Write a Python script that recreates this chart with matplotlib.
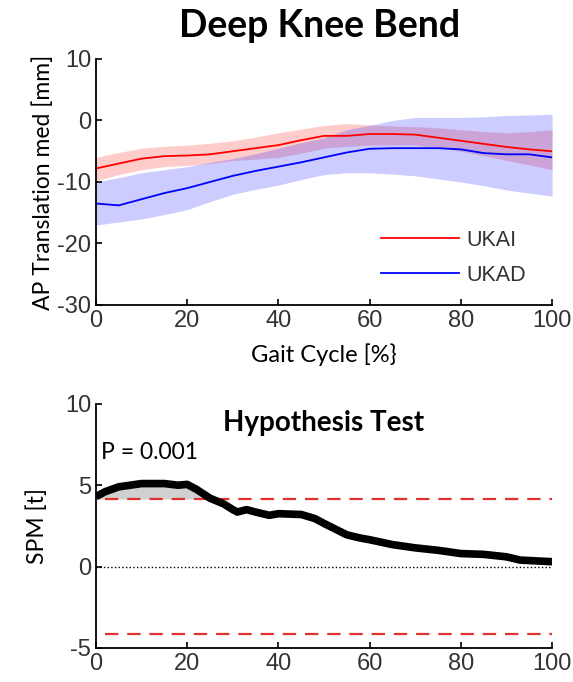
import numpy as np
import matplotlib.pyplot as plt

plt.rcParams['axes.unicode_minus'] = False

# --- data ---
gait = [0, 5, 10, 15, 20, 25, 30, 35, 40, 45, 50, 55, 60, 65, 70, 75, 80, 85, 90, 95, 100]

ukai_mean = [-7.8, -7.0, -6.2, -5.8, -5.7, -5.5, -5.0, -4.5, -4.0, -3.2, -2.5, -2.5, -2.2, -2.2, -2.3, -2.8, -3.3, -3.8, -4.3, -4.7, -5.0]
ukai_upper = [-6.0, -5.2, -4.5, -4.2, -4.0, -3.7, -3.3, -2.7, -2.0, -1.4, -0.8, -0.5, -0.7, -0.9, -1.0, -1.2, -1.5, -1.8, -2.0, -1.8, -1.5]
ukai_lower = [-9.8, -8.8, -8.0, -7.5, -7.3, -7.0, -6.5, -6.3, -6.0, -5.3, -4.5, -4.2, -4.0, -4.0, -4.0, -4.4, -5.0, -5.7, -6.5, -7.2, -8.0]

ukad_mean = [-13.5, -13.8, -12.8, -11.8, -11.0, -10.0, -9.0, -8.2, -7.5, -6.8, -6.0, -5.2, -4.6, -4.5, -4.5, -4.5, -4.7, -5.3, -5.5, -5.5, -6.0]
ukad_upper = [-10.0, -9.3, -8.5, -8.0, -7.5, -6.8, -6.2, -5.4, -4.5, -3.6, -2.8, -1.5, -0.8, 0.0, 0.5, 0.5, 0.5, 0.6, 0.8, 0.9, 1.0]
ukad_lower = [-17.0, -16.5, -16.0, -15.3, -14.5, -13.2, -12.0, -11.2, -10.5, -9.6, -8.8, -8.5, -8.5, -8.7, -9.0, -9.5, -10.0, -10.6, -11.3, -11.8, -12.3]

spm_x = [0, 2, 5, 10, 15, 18, 20, 22, 25, 28, 30, 31, 33, 35, 38, 40, 45, 48, 50, 55, 58, 60, 65, 70, 75, 80, 85, 90, 93, 100]
spm_t = [4.3, 4.6, 4.9, 5.1, 5.1, 5.0, 5.05, 4.75, 4.2, 3.85, 3.5, 3.35, 3.5, 3.35, 3.15, 3.25, 3.2, 2.95, 2.65, 1.95, 1.75, 1.65, 1.35, 1.15, 1.0, 0.8, 0.75, 0.6, 0.4, 0.3]
t_crit = 4.15

x_ticks = [0, 20, 40, 60, 80, 100]

tick_font = ['Liberation Sans Narrow', 'Liberation Sans', 'DejaVu Sans']
text_font = ['Lato', 'DejaVu Sans']

fig = plt.figure(figsize=(5.73, 6.82), dpi=100)

def style_axes(ax):
    ax.spines['top'].set_visible(False)
    ax.spines['right'].set_visible(False)
    ax.spines['left'].set_linewidth(1.3)
    ax.spines['bottom'].set_linewidth(1.3)
    ax.tick_params(direction='in', length=4, width=1.2, labelsize=17, colors='black', labelcolor='#333333')
    for lab in ax.get_xticklabels() + ax.get_yticklabels():
        lab.set_family(tick_font)

# ---- top panel ----
ax1 = fig.add_axes([0.1675, 0.5528, 0.796, 0.3607])
ax1.fill_between(gait, ukai_lower, ukai_upper, color='#ff0000', alpha=0.2, linewidth=0)
ax1.fill_between(gait, ukad_lower, ukad_upper, color='#0000ff', alpha=0.2, linewidth=0)
ax1.plot(gait, ukai_mean, color='#ff0000', lw=1.3, label='UKAI')
ax1.plot(gait, ukad_mean, color='#0000ff', lw=1.3, label='UKAD')
ax1.set_xlim(0, 100)
ax1.set_ylim(-30, 10)
ax1.set_xticks(x_ticks)
ax1.set_yticks([-30, -20, -10, 0, 10])
style_axes(ax1)
ax1.set_xlabel('Gait Cycle [%}', fontsize=17, family=text_font, labelpad=8)
ax1.set_ylabel('AP Translation med [mm]', fontsize=16.5, family=text_font, labelpad=2)
leg = ax1.legend(loc='lower right', frameon=False, handlelength=3.6, handletextpad=0.35,
                 labelspacing=0.65, bbox_to_anchor=(0.985, 0.0),
                 prop={'family': tick_font, 'size': 15.5})
for t in leg.get_texts():
    t.set_color('#333333')

fig.text(320 / 573, 1 - 26 / 682, 'Deep Knee Bend', ha='center', va='center',
         fontsize=27, fontweight='bold', family=text_font)

# ---- bottom panel ----
ax2 = fig.add_axes([0.1675, 0.0499, 0.796, 0.358])
spm_arr = np.array(spm_t)
ax2.fill_between(spm_x, t_crit, spm_arr, where=spm_arr > t_crit, interpolate=True,
                 color='#d0d0d0', linewidth=0)
ax2.plot([0, 100], [0, 0], color='black', ls=':', lw=1)
ax2.plot([2, 100], [t_crit, t_crit], color='#e03030', ls=(0, (6, 4)), lw=1.6)
ax2.plot([2, 100], [-t_crit, -t_crit], color='#e03030', ls=(0, (6, 4)), lw=1.6)
ax2.plot(spm_x, spm_t, color='black', lw=5.5, solid_capstyle='butt')
ax2.set_xlim(0, 100)
ax2.set_ylim(-5, 10)
ax2.set_xticks(x_ticks)
ax2.set_yticks([-5, 0, 5, 10])
style_axes(ax2)
ax2.set_ylabel('SPM [t]', fontsize=16.5, family=text_font, labelpad=12)
ax2.text(0.5, 0.92, 'Hypothesis Test', transform=ax2.transAxes, ha='center', va='center',
         fontsize=20, fontweight='bold', family=text_font)
ax2.text(1, 7.0, 'P = 0.001', ha='left', va='center', fontsize=16.5, family=text_font)

fig.savefig('out.png', dpi=100)
